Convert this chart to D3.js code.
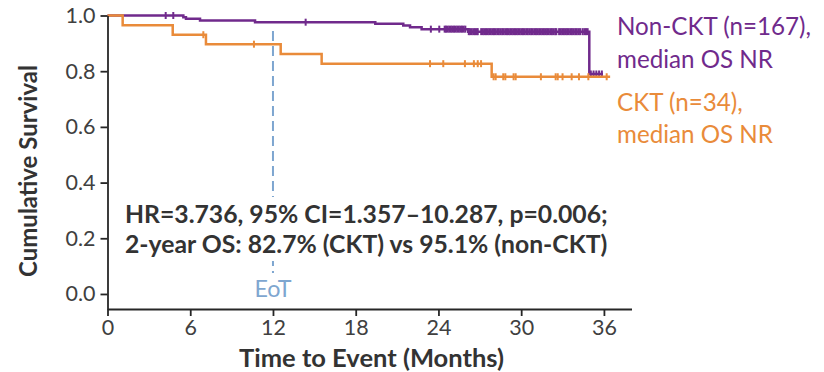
<!DOCTYPE html>
<html>
<head>
<meta charset="utf-8">
<script src="https://cdn.jsdelivr.net/npm/d3@7"></script>
<style>
  html, body { margin: 0; padding: 0; background: #ffffff; }
  svg { display: block; }
</style>
</head>
<body>
<svg id="chart" width="824" height="372"></svg>
<script>
// Kaplan–Meier curves: months at which survival changes, and the new survival level
const ncktTimes = [0, 5.5, 5.69, 6.71, 10.7, 19.42, 21.45, 21.94, 22.78, 26.16, 34.94];
const ncktSurv  = [1.0, 0.994, 0.988, 0.982, 0.976, 0.970, 0.964, 0.958, 0.951, 0.942, 0.790];
const ncktEnd = 35.93;
const ncktCensor = [
  4.22, 4.77, 14.37, 23.45, 24.06,
  24.45, 24.55, 24.66, 24.78, 24.9, 25.01, 25.13, 25.24, 25.36, 25.48, 25.6, 25.71, 25.83, 25.95,
  26.2, 26.3, 26.42, 26.54, 26.65, 26.77, 26.85,
  27.1, 27.22, 27.33, 27.45, 27.57, 27.68, 27.8, 27.92, 28.03, 28.15, 28.27, 28.38, 28.5, 28.62,
  28.73, 28.85, 28.97, 29.08, 29.2, 29.32, 29.43, 29.55, 29.67, 29.78, 29.9, 30.02, 30.13, 30.25,
  30.37, 30.48, 30.6, 30.72, 30.83, 30.95, 31.07, 31.18, 31.3, 31.42, 31.53, 31.65, 31.77, 31.88,
  32.0, 32.12, 32.23, 32.35, 32.47, 32.55,
  32.75, 32.87, 32.98, 33.1, 33.22, 33.33, 33.45, 33.57, 33.68, 33.8, 33.92, 34.03, 34.15, 34.27,
  34.45, 34.58, 34.7, 34.82,
  35.05, 35.25, 35.45, 35.65, 35.85
];

const cktTimes = [0, 1.1, 4.73, 7.14, 12.56, 15.53, 27.86];
const cktSurv  = [1.0, 0.965, 0.931, 0.897, 0.862, 0.827, 0.780];
const cktEnd = 36.45;
const cktCensor = [
  6.95, 10.62, 23.39, 24.35, 25.92, 26.57, 26.85, 27.09,
  28.0, 28.15, 28.7, 28.85, 29.45, 29.6, 31.43, 32.5, 32.65, 33.0, 33.66, 34.19, 34.87, 36.2
];

const xTicks = [0, 6, 12, 18, 24, 30, 36];
const yTicks = [0.0, 0.2, 0.4, 0.6, 0.8, 1.0];
const eotMonth = 12;
const eotLabel = "EoT";

const ncktLegend = ["Non-CKT (n=167),", "median OS NR"];
const cktLegend = ["CKT (n=34),", "median OS NR"];
const statLines = [
  "HR=3.736, 95% CI=1.357–10.287, p=0.006;",
  "2-year OS: 82.7% (CKT) vs 95.1% (non-CKT)"
];
const xTitle = "Time to Event (Months)";
const yTitle = "Cumulative Survival";

const purple = "#702A8C";
const orange = "#E98B3A";
const axisColor = "#262626";
const tickTextColor = "#404040";
const titleColor = "#333333";
const eotColor = "#7EA6D0";
const FONT = "Lato, 'Open Sans', 'Noto Sans', sans-serif";

const svg = d3.select("#chart");

const x = d3.scaleLinear().domain([0, 38]).range([107.5, 631.5]);
const y = d3.scaleLinear().domain([-0.054, 1.0]).range([309, 15.5]);

// scale a text element's font size so its rendered width equals the given width
function fitWidth(sel, width) {
  const w = sel.node().getComputedTextLength();
  const fs = parseFloat(sel.attr("font-size"));
  const size = fs * width / w;
  sel.attr("font-size", size);
  return size;
}

// ----- End-of-treatment marker -----
svg.append("line")
  .attr("x1", x(eotMonth)).attr("x2", x(eotMonth))
  .attr("y1", 31).attr("y2", 273)
  .attr("stroke", eotColor)
  .attr("stroke-width", 2)
  .attr("stroke-dasharray", "10,5");

const eot = svg.append("text")
  .attr("x", x(eotMonth)).attr("y", 297)
  .attr("text-anchor", "middle")
  .attr("font-family", FONT).attr("font-size", 20)
  .attr("fill", eotColor)
  .text(eotLabel);
fitWidth(eot, 37);

// ----- Survival curves -----
const stepLine = d3.line()
  .x(d => x(d[0]))
  .y(d => y(d[1]))
  .curve(d3.curveStepAfter);

function survAt(times, surv, t) {
  return surv[d3.bisectRight(times, t) - 1];
}

function drawCurve(times, surv, end, censor, color) {
  const pts = times.map((t, i) => [t, surv[i]]);
  pts.push([end, surv[surv.length - 1]]);
  svg.append("path")
    .datum(pts)
    .attr("d", stepLine)
    .attr("fill", "none")
    .attr("stroke", color)
    .attr("stroke-width", 2.5);
  svg.append("g")
    .selectAll("line")
    .data(censor)
    .join("line")
    .attr("x1", d => x(d)).attr("x2", d => x(d))
    .attr("y1", d => y(survAt(times, surv, d)) - 3.5)
    .attr("y2", d => y(survAt(times, surv, d)) + 3.5)
    .attr("stroke", color)
    .attr("stroke-width", 2);
}

drawCurve(ncktTimes, ncktSurv, ncktEnd, ncktCensor, purple);
drawCurve(cktTimes, cktSurv, cktEnd, cktCensor, orange);

// ----- Statistics annotation on a white panel -----
svg.append("rect")
  .attr("x", 120).attr("y", 197)
  .attr("width", 495).attr("height", 64)
  .attr("fill", "#ffffff");

const stat1 = svg.append("text")
  .attr("x", 125).attr("y", 223)
  .attr("font-family", FONT).attr("font-weight", "bold")
  .attr("font-size", 20).attr("fill", titleColor)
  .text(statLines[0]);
const statSize = fitWidth(stat1, 483);
svg.append("text")
  .attr("x", 125).attr("y", 253)
  .attr("font-family", FONT).attr("font-weight", "bold")
  .attr("font-size", statSize).attr("fill", titleColor)
  .text(statLines[1]);

// ----- Axes -----
const xAxis = svg.append("g")
  .attr("transform", `translate(0,${y.range()[0]})`)
  .call(d3.axisBottom(x).tickValues(xTicks).tickSize(7).tickSizeOuter(0).tickPadding(4)
    .tickFormat(d3.format("d")));

const yAxis = svg.append("g")
  .attr("transform", `translate(${x.range()[0]},0)`)
  .call(d3.axisLeft(y).tickValues(yTicks).tickSize(7).tickSizeOuter(0).tickPadding(5)
    .tickFormat(d3.format(".1f")));

[xAxis, yAxis].forEach(g => {
  g.select(".domain").attr("stroke", axisColor).attr("stroke-width", 1.8);
  g.selectAll(".tick line").attr("stroke", axisColor).attr("stroke-width", 1.8);
  g.selectAll(".tick text")
    .attr("font-family", FONT).attr("font-size", 20)
    .attr("fill", tickTextColor);
});

// size tick labels from the width of the "1.0" label
const refTick = yAxis.selectAll(".tick text").filter(d => d === 1.0);
const tickSize = fitWidth(refTick, 30);
svg.selectAll(".tick text").attr("font-size", tickSize);

// axis titles
const xt = svg.append("text")
  .attr("x", 371.5).attr("y", 367)
  .attr("text-anchor", "middle")
  .attr("font-family", FONT).attr("font-weight", "bold")
  .attr("font-size", 20).attr("fill", titleColor)
  .text(xTitle);
fitWidth(xt, 265);

const yt = svg.append("text")
  .attr("transform", "translate(37,171) rotate(-90)")
  .attr("text-anchor", "middle")
  .attr("font-family", FONT).attr("font-weight", "bold")
  .attr("font-size", 20).attr("fill", titleColor)
  .text(yTitle);
fitWidth(yt, 212);

// ----- Legend labels at the right end of each curve -----
const leg1 = svg.append("text")
  .attr("x", 617).attr("y", 35)
  .attr("font-family", FONT).attr("font-size", 20)
  .attr("fill", purple)
  .text(ncktLegend[0]);
const legSize = fitWidth(leg1, 194);

svg.append("text")
  .attr("x", 617).attr("y", 68)
  .attr("font-family", FONT).attr("font-size", legSize)
  .attr("fill", purple)
  .text(ncktLegend[1]);

cktLegend.forEach((s, i) => {
  svg.append("text")
    .attr("x", 617).attr("y", 111 + i * 32)
    .attr("font-family", FONT).attr("font-size", legSize)
    .attr("fill", orange)
    .text(s);
});
</script>
</body>
</html>
